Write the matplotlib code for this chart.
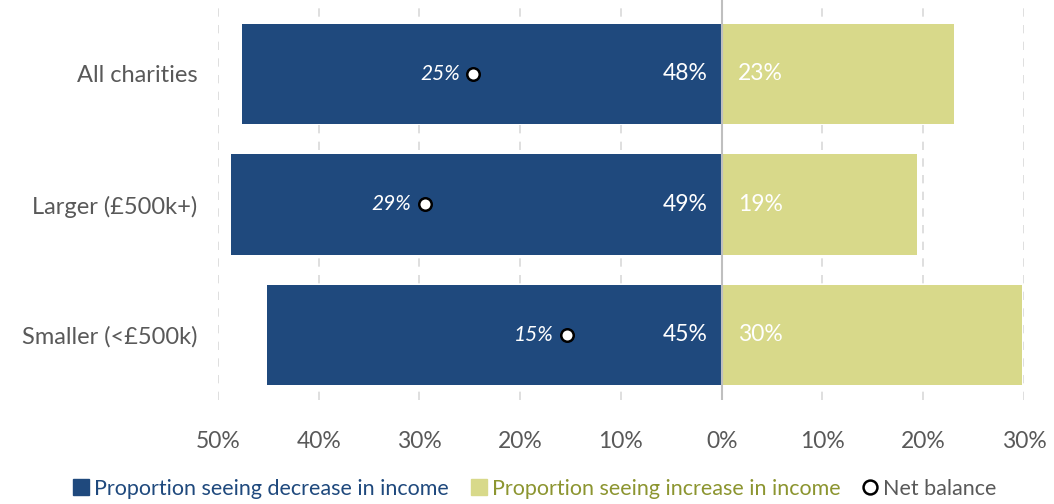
import numpy as np
import matplotlib.pyplot as plt
from matplotlib.lines import Line2D

plt.rcParams['font.family'] = ['Lato', 'DejaVu Sans']

# Datos
categories = ['All charities', 'Larger (£500k+)', 'Smaller (<£500k)']
decrease = [47.6, 48.7, 45.1]
increase = [23.1, 19.4, 29.8]
net_balance = [24.7, 29.5, 15.4]
decrease_labels = ['48%', '49%', '45%']
increase_labels = ['23%', '19%', '30%']
net_labels = ['25%', '29%', '15%']
xticks = [-50, -40, -30, -20, -10, 0, 10, 20, 30]
xtick_labels = ['50%', '40%', '30%', '20%', '10%', '0%', '10%', '20%', '30%']

blue = '#1F497D'
green = '#D8D98A'
grey = '#595959'

fig = plt.figure(figsize=(10.54, 5.04), dpi=100)
ax = fig.add_axes([0.2068, 0.206, 0.7647, 0.794])

y = np.arange(len(categories))
ax.barh(y, [-d for d in decrease], height=0.77, color=blue, zorder=2)
ax.barh(y, increase, height=0.77, color=green, zorder=2)

# Lineas de cuadricula
for t in xticks:
    if t == 0:
        ax.axvline(0, color='#BFBFBF', lw=1.5, zorder=3)
    else:
        ax.axvline(t, color='#D9D9D9', lw=1.2, ls=(0, (5, 5)), zorder=1)

for i in range(len(categories)):
    ax.text(-1.4, y[i], decrease_labels[i], ha='right', va='center',
            color='white', fontsize=16.5, zorder=4)
    ax.text(1.6, y[i], increase_labels[i], ha='left', va='center',
            color='white', fontsize=16.5, zorder=4)
    ax.plot(-net_balance[i], y[i], 'o', ms=9, mfc='white', mec='black',
            mew=1.8, zorder=5)
    ax.text(-net_balance[i] - 1.3, y[i], net_labels[i], ha='right',
            va='center', color='white', fontsize=15, style='italic', zorder=4)

ax.set_xlim(-50, 30)
ax.set_ylim(2.5, -0.567)
ax.set_yticks(y)
ax.set_yticklabels(categories, fontsize=17, color=grey)
ax.set_xticks(xticks)
ax.set_xticklabels(xtick_labels, fontsize=16.5, color=grey)
ax.tick_params(length=0, pad=15, axis='y')
ax.tick_params(length=0, pad=22, axis='x')
for s in ax.spines.values():
    s.set_visible(False)

handles = [
    Line2D([], [], marker='s', ls='', ms=11, mfc=blue, mec=blue),
    Line2D([], [], marker='s', ls='', ms=11, mfc=green, mec=green),
    Line2D([], [], marker='o', ls='', ms=10, mfc='white', mec='black', mew=1.8),
]
fig.legend(handles, ['Proportion seeing decrease in income',
                     'Proportion seeing increase in income', 'Net balance'],
           loc='center', bbox_to_anchor=(0.507, 0.03), ncol=3, frameon=False,
           fontsize=15.5, handlelength=0.8, handletextpad=0.2, columnspacing=1.0,
           labelcolor=[blue, '#8C9530', grey])

fig.savefig('out.png', dpi=100)
